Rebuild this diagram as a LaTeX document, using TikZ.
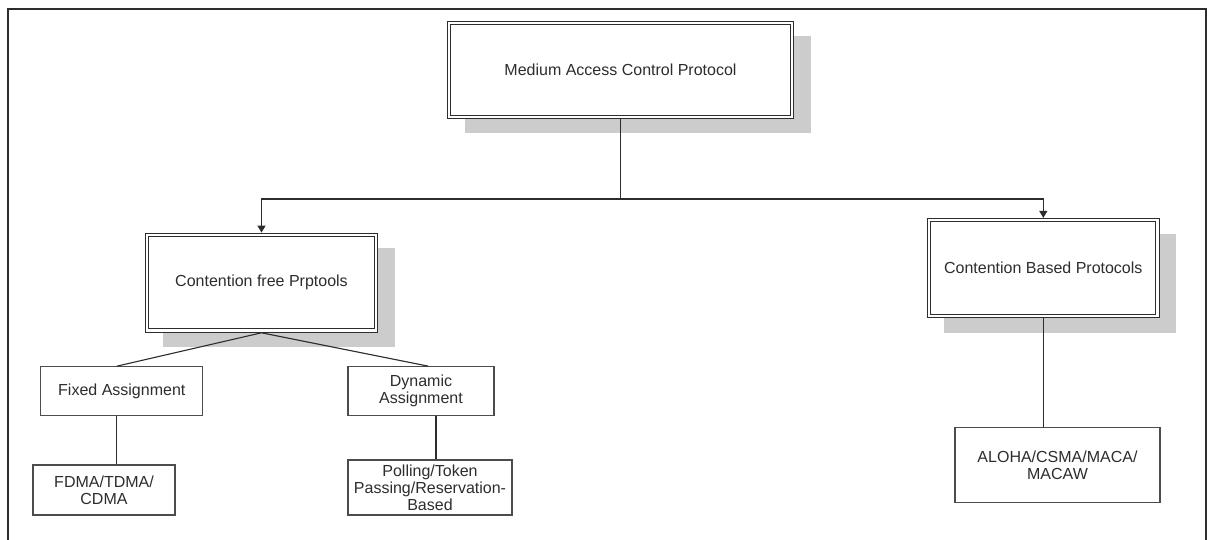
\documentclass[tikz,border=0pt]{standalone}
\usepackage{fontspec}
\setmainfont{Liberation Sans}
\usetikzlibrary{arrows.meta,calc}

\definecolor{ink}{RGB}{45,45,45}
\definecolor{shade}{RGB}{204,204,204}

\tikzset{
  every node/.style={font=\fontsize{16}{17}\selectfont, text=ink, align=center},
  mainbox/.style={draw=ink, line width=1.2pt, fill=white, inner sep=0pt,
    preaction={fill=shade, transform canvas={xshift=17pt, yshift=-15pt}}},
  innerframe/.style={draw=ink, line width=1.1pt},
  subbox/.style={draw=ink!85, line width=1.2pt, fill=white, inner sep=0pt},
  link/.style={draw=ink, line width=1.1pt},
  arrowlink/.style={link, -{Triangle[width=8pt,length=7pt]}},
}

\begin{document}
\begin{tikzpicture}[x=1pt, y=-1pt]
  \useasboundingbox (0,0) rectangle (1207,540);
  \fill[white] (0,0) rectangle (1207,540);

  % page frame, open at the bottom
  \draw[ink, line width=2pt] (8,540) -- (8,9) -- (1206,9) -- (1206,540);

  % level 0
  \node[mainbox, minimum width=346pt, minimum height=97pt] (mac) at (620.5,70)
    {Medium Access Control Protocol};

  % level 1
  \node[mainbox, minimum width=232pt, minimum height=99pt] (cfree) at (261.5,282.7)
    {Contention free Prptools};
  \node[mainbox, minimum width=232pt, minimum height=99pt] (cbased) at (1043.3,268)
    {Contention Based Protocols};

  % inner lines of the double frames
  \foreach \n in {mac,cfree,cbased}
    \draw[innerframe] ($(\n.south west)+(4,-4)$) rectangle ($(\n.north east)+(-4,4)$);

  % level 2
  \node[subbox, minimum width=162pt, minimum height=49pt] (fixed) at (121.8,391.3)
    {Fixed Assignment};
  \node[subbox, minimum width=146pt, minimum height=49pt] (dynamic) at (421,391.2)
    {Dynamic\\Assignment};

  % level 3
  \node[subbox, minimum width=142pt, minimum height=50pt] (fdma) at (104,490)
    {FDMA/TDMA/\\CDMA};
  \node[subbox, minimum width=164pt, minimum height=55pt] (polling) at (430,487.5)
    {Polling/Token\\Passing/Reservation-\\Based};
  \node[subbox, minimum width=205pt, minimum height=75pt] (aloha) at (1057.5,465.3)
    {ALOHA/CSMA/MACA/\\MACAW};

  % connector guide positions
  \coordinate (bus) at (0,199);
  \coordinate (fx) at (116.7,0);
  \coordinate (dx) at (428,0);
  \coordinate (px) at (436,0);

  % connectors
  \draw[link] (mac.south) -- (mac.south |- bus);
  \draw[arrowlink] (mac.south |- bus) -| (cfree.north);
  \draw[arrowlink] (mac.south |- bus) -| (cbased.north);

  \draw[link] (fixed.north -| fx) -- (cfree.south) -- (dynamic.north -| dx);
  \draw[link] (fixed.south -| fx) -- (fdma.north -| fx);
  \draw[link] (dynamic.south -| px) -- (polling.north -| px);
  \draw[link] (cbased.south) -- (aloha.north -| cbased.south);
\end{tikzpicture}
\end{document}
